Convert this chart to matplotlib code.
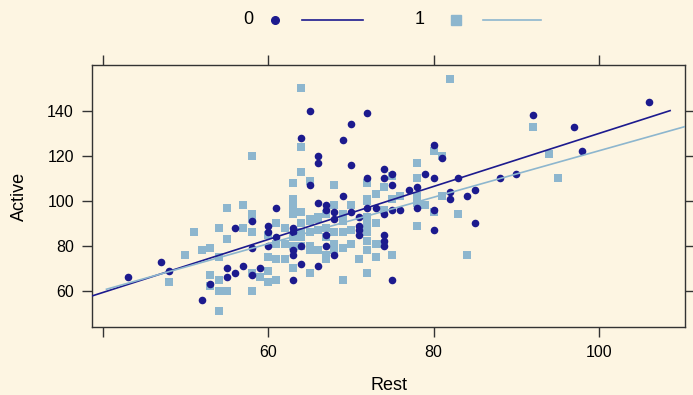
import numpy as np
import matplotlib.pyplot as plt
from matplotlib.lines import Line2D

plt.rcParams['font.family'] = ['Liberation Sans', 'DejaVu Sans']

# group 0 (circles): Rest, Active
rest0 = [43, 47, 48, 52, 53, 55, 55, 56, 57, 56, 58, 58, 58, 59, 60, 60, 60, 61, 61,
         63, 63, 63, 63, 63, 64, 64, 64, 65, 65, 66, 66, 66, 66, 67, 67, 67, 67, 68,
         68, 68, 69, 69, 70, 70, 70, 71, 71, 71, 71, 72, 72, 72, 73, 74, 74, 74, 74,
         74, 74, 75, 75, 75, 75, 76, 77, 78, 78, 79, 80, 80, 80, 80, 81, 82, 82, 83,
         84, 85, 85, 88, 90, 92, 97, 98, 106]
active0 = [66, 73, 69, 56, 63, 70, 66, 68, 71, 88, 91, 79, 67, 70, 89, 86, 80, 84, 97,
           88, 86, 78, 76, 65, 80, 72, 128, 140, 107, 120, 117, 99, 71, 98, 96, 85, 80, 95,
           92, 76, 127, 102, 134, 116, 95, 93, 89, 87, 85, 139, 110, 97, 97, 114, 110, 94, 85,
           82, 80, 112, 107, 96, 65, 96, 105, 106, 97, 112, 125, 110, 96, 87, 119, 104, 101, 110,
           102, 105, 90, 110, 112, 138, 133, 122, 144]

# group 1 (squares)
rest1 = [48, 50, 51, 52, 53, 53, 53, 54, 54, 54, 54, 54, 55, 55, 55, 57, 57, 58, 58,
         58, 58, 58, 58, 59, 60, 60, 60, 60, 61, 61, 61, 61, 62, 62, 62, 63, 63, 63,
         63, 63, 63, 63, 63, 64, 64, 64, 64, 64, 64, 64, 64, 65, 65, 65, 65, 65, 65,
         65, 66, 66, 66, 66, 67, 67, 67, 67, 67, 68, 68, 68, 68, 68, 69, 69, 69, 69,
         69, 70, 70, 70, 71, 72, 72, 72, 72, 72, 72, 72, 72, 72, 72, 73, 73, 73, 73,
         74, 74, 74, 75, 75, 75, 76, 78, 78, 78, 78, 78, 79, 80, 80, 81, 81, 82, 83,
         84, 92, 94, 95]
active1 = [64, 76, 86, 78, 79, 67, 62, 88, 75, 65, 60, 51, 97, 83, 60, 98, 88, 120, 94,
           92, 86, 68, 60, 66, 85, 75, 69, 64, 90, 81, 74, 65, 88, 81, 74, 108, 101, 100,
           97, 94, 84, 80, 70, 150, 124, 113, 95, 90, 86, 84, 80, 109, 92, 91, 86, 80, 78,
           68, 93, 92, 87, 78, 94, 88, 84, 76, 74, 107, 98, 86, 81, 78, 94, 91, 86, 79,
           65, 98, 87, 81, 74, 108, 101, 100, 93, 92, 89, 86, 82, 78, 68, 103, 90, 81, 75,
           106, 96, 81, 111, 101, 76, 102, 117, 110, 102, 99, 89, 98, 122, 95, 120, 102, 154, 94,
           76, 133, 121, 110]

# fitted lines (intercept, slope, x range) per group
fit_a = [12.2, 19.0]
fit_b = [1.178, 1.033]
fit_x = [(38.7, 108.6), (40.45, 110.4)]

bg = '#FDF5E2'
c0 = '#1C1A8E'
c1 = '#8DB6CE'

fig = plt.figure(figsize=(6.93, 3.95), dpi=100, facecolor=bg)
ax = fig.add_axes([92/693, 1-327/395, (685-92)/693, (327-65)/395], facecolor=bg)

ax.scatter(rest1, active1, marker='s', s=40, color=c1, linewidths=0, zorder=2)
ax.scatter(rest0, active0, marker='o', s=30, color=c0, linewidths=0, zorder=3)
for a, b, (x1, x2), c in zip(fit_a, fit_b, fit_x, [c0, c1]):
    xs = np.array([x1, x2])
    ax.plot(xs, a + b*xs, color=c, lw=1.2, zorder=4)

ax.set_xlim(38.7, 110.4)
ax.set_ylim(44, 160.4)
ax.set_xticks([40, 60, 80, 100])
ax.set_xticklabels(['', '60', '80', '100'])
ax.set_yticks([60, 80, 100, 120, 140])
ax.tick_params(direction='out', length=7, width=1, color='#333333', labelsize=11.5,
               top=True, right=True, pad=6)
for s in ax.spines.values():
    s.set_color('#333333')
    s.set_linewidth(1)
ax.set_xlabel('Rest', fontsize=13, labelpad=12)
ax.set_ylabel('Active', fontsize=13, labelpad=14)

# key on top
fig.text(248/693, 1-20/395, '0', fontsize=13, ha='center', va='center')
fig.text(420/693, 1-20/395, '1', fontsize=13, ha='center', va='center')
fig.add_artist(Line2D([275/693], [1-20/395], marker='o', ms=5.5, color=c0, lw=0))
fig.add_artist(Line2D([456/693], [1-20/395], marker='s', ms=6.5, color=c1, lw=0))
fig.add_artist(Line2D([302/693, 363/693], [1-20/395]*2, color=c0, lw=1.2))
fig.add_artist(Line2D([483/693, 541/693], [1-20/395]*2, color=c1, lw=1.2))

fig.savefig('out.png', dpi=100, facecolor=bg)
